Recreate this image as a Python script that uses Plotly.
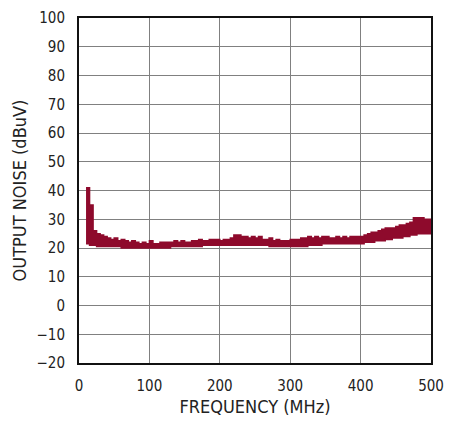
import plotly.graph_objects as go

freq_mhz = list(range(10, 505, 5))

noise_upper_dbuv = [
    41, 35, 26, 25, 24.5, 24, 23.5, 23, 23.5, 22.5,
    23, 22.5, 22, 22.5, 22, 21.5, 22, 21.5, 22.5, 21.5,
    21.5, 22, 22, 22, 22, 22.5, 22, 22.5, 22, 22,
    22.5, 22.5, 23, 22.5, 22.5, 23, 23, 23, 22.5, 23,
    23, 23.5, 24.5, 24.5, 24, 24, 23.5, 24, 23.5, 24,
    23, 23, 23.5, 22.5, 23, 22.5, 22.5, 22.5, 23, 23,
    23, 23.5, 23.5, 24, 23.5, 24, 23.5, 24, 24, 23.5,
    23.5, 24, 23.5, 24, 23.5, 24, 24, 24, 24, 24.5,
    25, 25.5, 25.5, 26, 26.5, 27, 27, 27, 27.5, 28,
    28, 28.5, 29, 30.5, 30.5, 30.5, 30, 30, 29,
]

noise_lower_dbuv = [
    21.5, 21, 21, 20.5, 20.5, 20.5, 20.5, 20.5, 20.5, 20.5,
    20, 20, 20, 20, 20, 20, 20, 20, 20, 20,
    20, 20, 20, 20, 20.5, 20.5, 20.5, 20.5, 20.5, 20.5,
    20.5, 20.5, 20.5, 21, 21, 21, 21, 21, 21, 21,
    21, 21, 21, 21, 21, 21, 21, 21, 21, 21,
    21, 21, 20.5, 20.5, 20.5, 20.5, 20.5, 20.5, 20.5, 20.5,
    20.5, 20.5, 20.5, 21, 21, 21, 21, 21.5, 21.5, 21.5,
    21.5, 21.5, 21.5, 21.5, 21.5, 21.5, 21.5, 21.5, 21.5, 22,
    22, 22, 22.5, 22.5, 22.5, 23, 23, 23.5, 23.5, 23.5,
    24, 24, 24.5, 24.5, 25, 25, 25, 25, 25,
]

x_ticks = [0, 100, 200, 300, 400, 500]
y_ticks = [-20, -10, 0, 10, 20, 30, 40, 50, 60, 70, 80, 90, 100]
y_tick_text = ["\u221220", "\u221210", "0", "10", "20", "30", "40", "50",
               "60", "70", "80", "90", "100"]

color = "#8e0a2c"
font_family = "DejaVu Sans Condensed, Liberation Sans, Arial, sans-serif"

fig = go.Figure()
fig.add_trace(go.Scatter(
    x=freq_mhz, y=noise_lower_dbuv, mode="lines",
    line=dict(color=color, width=1.5, shape="hv"), hoverinfo="skip",
    showlegend=False,
))
fig.add_trace(go.Scatter(
    x=freq_mhz, y=noise_upper_dbuv, mode="lines",
    line=dict(color=color, width=1.5, shape="hv"), fill="tonexty",
    fillcolor=color, showlegend=False,
))

# The page body has a default 8px margin, so the figure is sized/offset to fit.
fig.update_layout(
    width=451, height=413,
    margin=dict(l=71, r=28, t=10, b=58),
    paper_bgcolor="white", plot_bgcolor="white",
    font=dict(family=font_family, size=15, color="#222"),
)
fig.update_xaxes(
    range=[0, 500], tickvals=x_ticks, showgrid=True, gridcolor="#808080",
    gridwidth=1, showline=True, linecolor="#111", linewidth=2, mirror=True,
    zeroline=False, ticks="", ticklabelstandoff=8, automargin=False,
    ticklabeloverflow="allow",
    title=dict(text="FREQUENCY (MHz)", standoff=6),
)
fig.update_yaxes(
    range=[-20, 100], tickvals=y_ticks, ticktext=y_tick_text, showgrid=True,
    gridcolor="#808080", gridwidth=1, showline=True, linecolor="#111",
    linewidth=2, mirror=True, zeroline=False, ticks="", ticklabelstandoff=9,
    automargin=False, ticklabeloverflow="allow",
    title=dict(text="OUTPUT NOISE (dBuV)", standoff=5),
)

fig.write_html("out.html")
